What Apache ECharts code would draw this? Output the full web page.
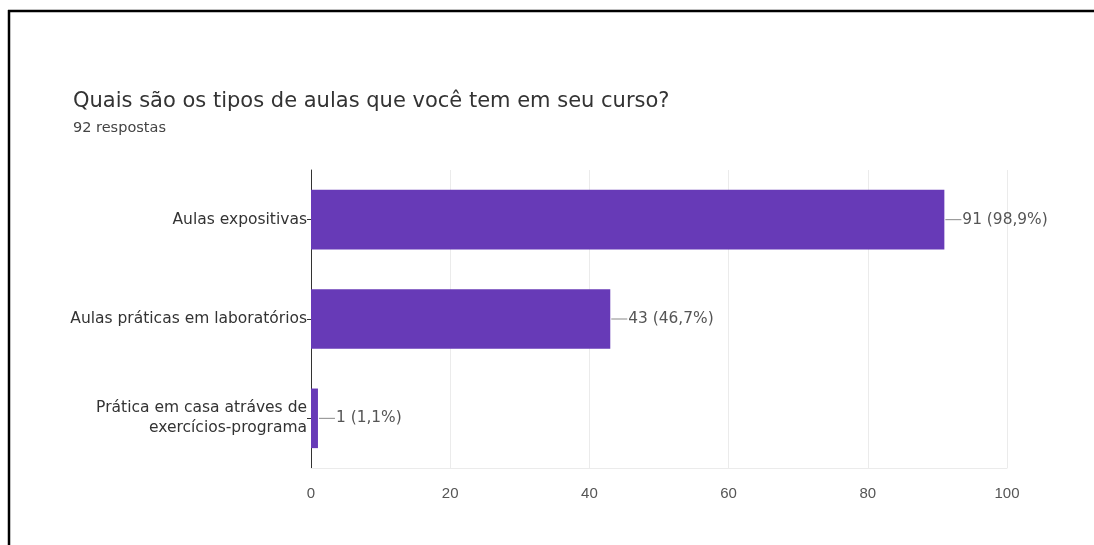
<!DOCTYPE html>
<html>
<head>
<meta charset="utf-8">
<script src="https://cdn.jsdelivr.net/npm/echarts@6/dist/echarts.min.js"></script>
<style>
html,body{margin:0;padding:0;background:#fff;}
#chart{width:1094px;height:545px;}
</style>
</head>
<body>
<div id="chart"></div>
<script>
const titleText = 'Quais são os tipos de aulas que você tem em seu curso?';
const subtitleText = '92 respostas';
const totalResponses = 92;
const categories = ['Aulas expositivas', 'Aulas práticas em laboratórios', 'Prática em casa atráves de\nexercícios-programa'];
const values = [91, 43, 1];
const xTicks = [0, 20, 40, 60, 80, 100];

const chart = echarts.init(document.getElementById('chart'), null, {renderer: 'canvas'});
chart.setOption({
  backgroundColor: '#ffffff',
  animation: false,
  title: {
    text: titleText,
    subtext: subtitleText,
    left: 68,
    top: 86,
    itemGap: 9,
    textStyle: {fontFamily: 'DejaVu Sans', fontSize: 21, fontWeight: 'normal', color: '#333333'},
    subtextStyle: {fontFamily: 'DejaVu Sans', fontSize: 14.5, color: '#444444'}
  },
  graphic: [
    {type: 'line', shape: {x1: 8, y1: 11, x2: 1094, y2: 11}, style: {stroke: '#000', lineWidth: 2.5}},
    {type: 'line', shape: {x1: 9, y1: 10, x2: 9, y2: 545}, style: {stroke: '#000', lineWidth: 2.5}}
  ],
  grid: {left: 311, right: 87, top: 170, bottom: 77, containLabel: false},
  xAxis: {
    type: 'value',
    min: xTicks[0],
    max: xTicks[xTicks.length - 1],
    interval: xTicks[1] - xTicks[0],
    axisLine: {show: true, lineStyle: {color: '#ebebeb', width: 1}},
    axisTick: {show: false},
    axisLabel: {color: '#555555', fontFamily: 'Arial', fontSize: 15, margin: 18},
    splitLine: {show: true, lineStyle: {color: '#ebebeb', width: 1}}
  },
  yAxis: {
    type: 'category',
    inverse: true,
    data: categories,
    axisLine: {show: true, lineStyle: {color: '#333333', width: 1}},
    axisTick: {show: true, alignWithLabel: true, length: 4, lineStyle: {color: '#333333'}},
    axisLabel: {color: '#333333', fontFamily: 'DejaVu Sans', fontSize: 15.5, margin: 4, align: 'right', lineHeight: 20},
    splitLine: {show: false}
  },
  series: [{
    type: 'bar',
    data: values,
    barCategoryGap: '40%',
    itemStyle: {color: '#673ab7'},
    label: {
      show: true,
      position: 'right',
      distance: 1,
      formatter: function (p) {
        const pct = (p.value / totalResponses * 100).toFixed(1).replace('.', ',');
        return '{l|}{t|' + p.value + ' (' + pct + '%)}';
      },
      rich: {
        l: {width: 16, height: 1, backgroundColor: '#888888'},
        t: {color: '#555555', fontFamily: 'DejaVu Sans', fontSize: 15.4, padding: [0, 0, 0, 1]}
      }
    }
  }]
});
</script>
</body>
</html>
